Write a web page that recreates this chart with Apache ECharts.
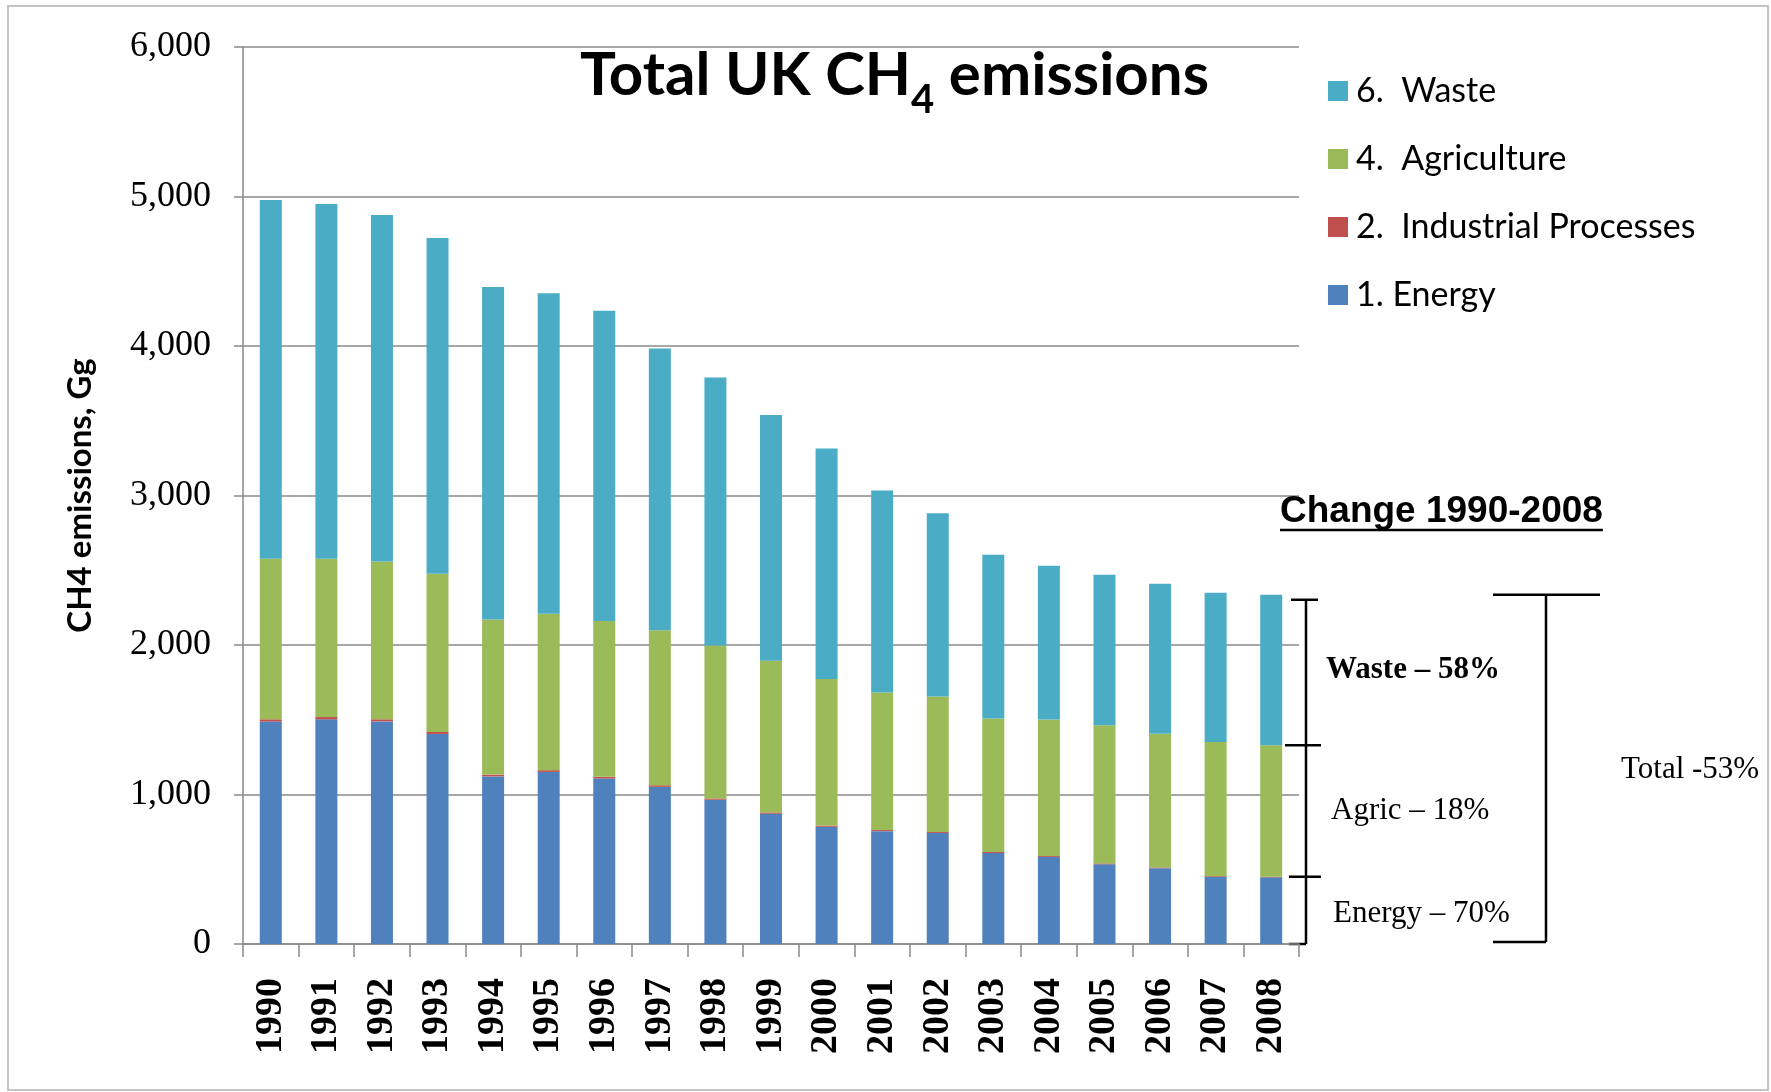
<!DOCTYPE html>
<html><head><meta charset="utf-8">
<script src="https://cdn.jsdelivr.net/npm/echarts@6/dist/echarts.min.js"></script>
<style>html,body{margin:0;padding:0;background:#fff}#c{width:1771px;height:1092px}</style>
</head><body><div id="c"></div>
<script>
// ---- data (Gg CH4) ----
const years = ['1990','1991','1992','1993','1994','1995','1996','1997','1998','1999','2000','2001','2002','2003','2004','2005','2006','2007','2008'];
const energy      = [1488,1503,1489,1405,1121,1151,1107,1051,965,871,784,755,743,608,582,533,507,449,446];
const industrial  = [15,15,14,13,12,12,11,11,9,9,8,7,7,7,6,6,5,5,4];
const agriculture = [1074,1059,1055,1058,1038,1046,1042,1036,1023,1015,980,921,905,893,914,924,895,897,879];
const waste       = [2400,2373,2318,2247,2224,2144,2075,1885,1793,1643,1543,1350,1226,1095,1028,1007,1002,998,1007];
const seriesNames = ['1. Energy','2.  Industrial Processes','4.  Agriculture','6.  Waste'];
const legendOrder = ['6.  Waste','4.  Agriculture','2.  Industrial Processes','1. Energy'];
const yMin = 0, yMax = 6000, yStep = 1000;
const yAxisName = 'CH4 emissions, Gg';
const changeHeading = 'Change 1990-2008';
const changeLabels = {waste:'Waste – 58%', agric:'Agric – 18%', energy:'Energy – 70%', total:'Total -53%'};

const colors = ['#4F81BD','#C0504D','#9BBB59','#4BACC6'];
const gridColor = '#8a8a8a';

const chart = echarts.init(document.getElementById('c'), null, {renderer:'canvas'});
const seriesData = [energy, industrial, agriculture, waste];

chart.setOption({
  animation:false,
  backgroundColor:'#fff',
  grid:{left:243, right:472, top:47, bottom:148},
  legend:{
    data:legendOrder, orient:'vertical', left:1328, top:71, padding:0,
    itemWidth:20, itemHeight:20, itemGap:28, icon:'rect',
    textStyle:{fontFamily:'Lato', fontSize:34, color:'#000', lineHeight:40, padding:[0,0,0,3]}
  },
  xAxis:{
    type:'category', data:years,
    axisLine:{lineStyle:{color:gridColor, width:1.5}},
    axisTick:{show:true, length:13, lineStyle:{color:gridColor, width:1.5}},
    axisLabel:{rotate:90, margin:34, fontFamily:'Liberation Serif', fontSize:38, fontWeight:'bold', color:'#000'}
  },
  yAxis:{
    type:'value', min:yMin, max:yMax, interval:yStep,
    name:yAxisName, nameLocation:'middle', nameGap:146,
    nameTextStyle:{fontFamily:'Lato', fontSize:33, fontWeight:'bold', color:'#000'},
    axisLine:{show:true, lineStyle:{color:gridColor, width:1.5}},
    axisTick:{show:true, length:9, lineStyle:{color:gridColor, width:1.5}},
    axisLabel:{margin:32, fontFamily:'Liberation Serif', fontSize:36, color:'#000',
      formatter:v=>String(v).replace(/\B(?=(\d{3})+(?!\d))/g, ',')},
    splitLine:{lineStyle:{color:gridColor, width:1.5}}
  },
  series: seriesNames.map((n,i)=>({
    name:n, type:'bar', stack:'total', barWidth:22, data:seriesData[i],
    itemStyle:{color:colors[i]}
  }))
});

// ---- annotations, positioned from the axes ----
const last = years.length-1;
const cum = (k)=>seriesData.slice(0,k).reduce((s,arr)=>s+arr[last],0);
const py = v => chart.convertToPixel({gridIndex:0},[last, v])[1];
const yTot = py(cum(4)), yAgr = py(cum(3)), yEn = py(cum(2)), y0 = py(0);

const ctx = document.createElement('canvas').getContext('2d');
ctx.font = 'bold 37px "Liberation Sans"';
const headW = ctx.measureText(changeHeading).width;

const blk = {stroke:'#000', lineWidth:2.5};
const L = (x1,y1,x2,y2)=>({type:'line', shape:{x1,y1,x2,y2}, style:blk, silent:true});
const T = (x,y,text,font)=>({type:'text', x, y, style:{text, font, fill:'#000', textAlign:'left', textVerticalAlign:'middle'}, silent:true});

chart.setOption({graphic:{elements:[
  {type:'rect', shape:{x:8,y:6,width:1760,height:1084}, style:{fill:null, stroke:'#c4c4c4', lineWidth:2}, silent:true},
  {type:'text', x:580, y:42, silent:true, style:{
    text:'{a|Total UK CH}{b|4}{a| emissions}', textVerticalAlign:'top', textAlign:'left',
    rich:{a:{fontFamily:'Lato', fontWeight:'bold', fontSize:60, lineHeight:68, fill:'#000', color:'#000'},
          b:{fontFamily:'Lato', fontWeight:'bold', fontSize:40, lineHeight:40, padding:[48,0,0,0], fill:'#000', color:'#000'}}
  }},
  T(1280, 512, changeHeading, 'bold 37px "Liberation Sans"'),
  {type:'line', shape:{x1:1280,y1:530,x2:1280+headW,y2:530}, style:{stroke:'#000', lineWidth:2.5}, silent:true},
  // left bracket
  L(1306, yTot+5, 1306, y0),
  L(1291, yTot+5, 1318, yTot+5),
  L(1285, yAgr, 1321, yAgr),
  L(1289, yEn, 1321, yEn),
  L(1289, y0, 1306, y0),
  // right bracket
  L(1546, yTot, 1546, y0-2),
  L(1493, yTot, 1600, yTot),
  L(1493, y0-2, 1546, y0-2),
  T(1326, (yTot+yAgr)/2, changeLabels.waste, 'bold 31px "Liberation Serif"'),
  T(1331, (yAgr+yEn)/2, changeLabels.agric, '31px "Liberation Serif"'),
  T(1333, (yEn+y0)/2+3, changeLabels.energy, '31px "Liberation Serif"'),
  T(1621, (yTot+y0)/2, changeLabels.total, '31px "Liberation Serif"')
]}});
</script></body></html>
